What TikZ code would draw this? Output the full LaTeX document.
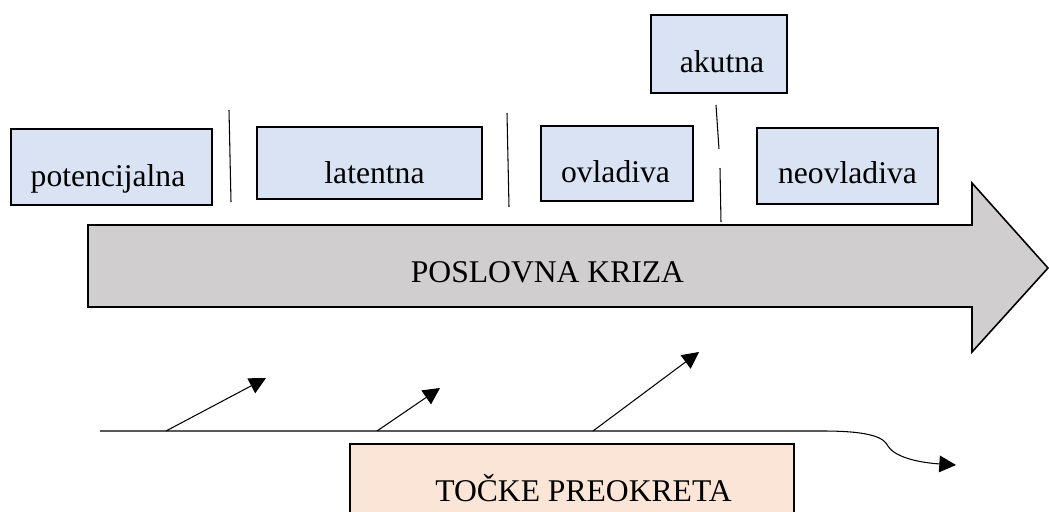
\documentclass[tikz,border=0pt]{standalone}
\usepackage{fontspec}
\setmainfont{Liberation Serif}
\usetikzlibrary{arrows.meta}
\definecolor{phasefill}{HTML}{DAE3F3}
\definecolor{crisisfill}{HTML}{D0CECE}
\definecolor{turnfill}{HTML}{FBE5D6}

\begin{document}
\begin{tikzpicture}[x=0.02cm, y=-0.02cm,
        phase/.style={draw, line width=0.7pt, fill=phasefill},
        word/.style={anchor=base, inner sep=0pt, font=\fontsize{18}{21}\selectfont},
        pointer/.style={line width=0.6pt, -{Triangle[length=9.5pt, width=9.5pt]}}]
        \clip (0,0) rectangle (1049,511);
        % phases of the crisis
        \draw [phase] (11,129) rectangle (212,205);
        \draw [phase] (257,127) rectangle (482,199);
        \draw [phase] (541,126) rectangle (693,201);
        \draw [phase] (651,15) rectangle (787,93);
        \draw [phase] (757,128) rectangle (938,204);
        \draw [line width=0.6pt] (229,110) -- (231,202);
        \draw [line width=0.6pt] (507,113) -- (509,207);
        \draw [line width=0.6pt] (716,105) -- (719,149);
        \draw [line width=0.6pt] (720,168) -- (721,222);
        \path (108,186)   node [word] (pot) {potencijalna}
              (374.5,183) node [word] (lat) {latentna}
              (615.5,182) node [word] (ovl) {ovladiva}
              (722,72)    node [word] (aku) {akutna}
              (847.5,183) node [word] (neo) {neovladiva};
        % the big arrow
        \draw [line width=0.9pt, fill=crisisfill] (88,225) -- (972,225) -- (972,183) -- (1048,268)
              -- (972,352) -- (972,307) -- (88,307) -- cycle;
        \node [word] (kriza) at (547.5,282) {POSLOVNA KRIZA};
        % turning points
        \draw [line width=0.7pt, fill=turnfill] (350,444) rectangle (794,530);
        \node [word] (preokret) at (583.5,501) {TOČKE PREOKRETA};
        \coordinate (start) at (100,431);
        \coordinate (bend) at (823,431);
        \coordinate (end) at (956,465);
        \draw [pointer] (start) -- (bend) .. controls (872,431) and (884,438) .. (888,446)
              .. controls (896,459) and (925,463) .. (end);
        \coordinate (t1) at (166,431);
        \coordinate (t2) at (377,431);
        \coordinate (t3) at (593,431);
        \coordinate (s1) at (266,378);
        \coordinate (s2) at (440,388);
        \coordinate (s3) at (699,352);
        \draw [pointer] (t1) -- (s1);
        \draw [pointer] (t2) -- (s2);
        \draw [pointer] (t3) -- (s3);
\end{tikzpicture}
\end{document}
